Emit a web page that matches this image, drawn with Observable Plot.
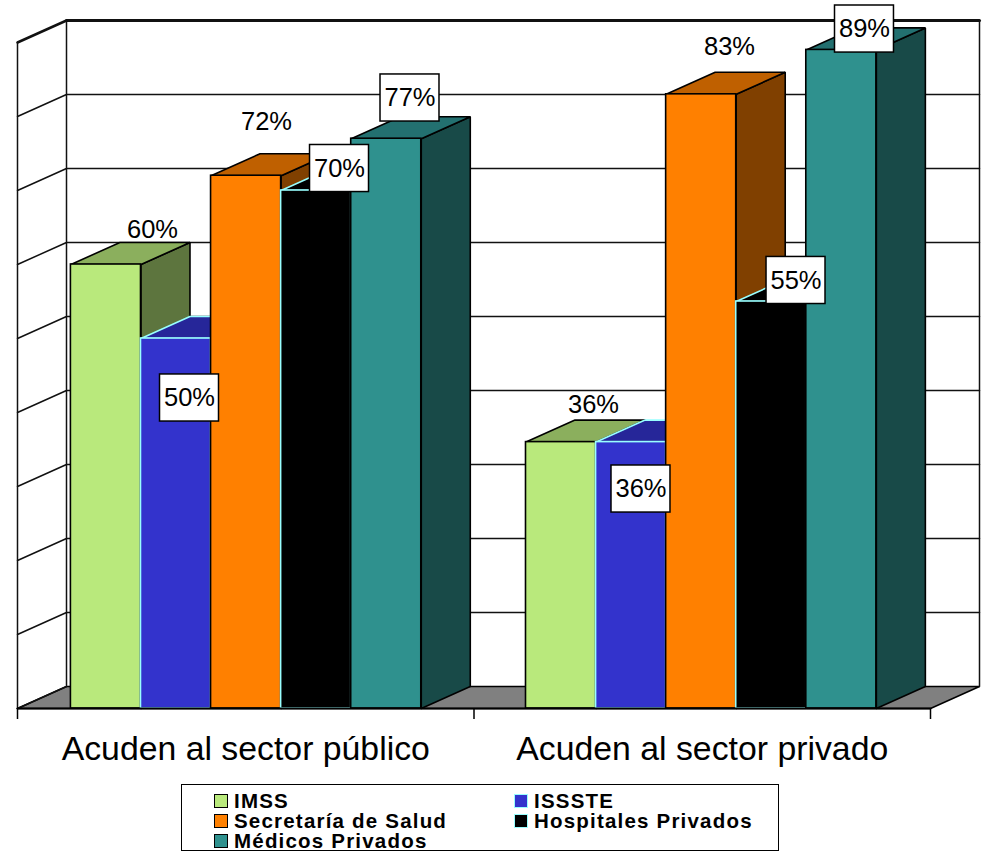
<!DOCTYPE html>
<html><head><meta charset="utf-8">
<script src="https://cdn.jsdelivr.net/npm/d3@7"></script>
<script src="https://cdn.jsdelivr.net/npm/@observablehq/plot@0.6"></script>
<style>
html,body{margin:0;padding:0;background:#fff;font-family:"Liberation Sans",Arial,sans-serif}
#chart{height:780px}
#legend{box-sizing:border-box;position:relative;margin:4px 0 0 181px;width:598px;height:67px;border:1.5px solid #000;overflow:visible;display:grid;grid-template-columns:300px 260px;grid-auto-rows:20px;padding:5.5px 0 0 32px;font-weight:bold;font-size:20.5px;line-height:20px;letter-spacing:1.2px;color:#000}
#legend div{display:flex;align-items:center;white-space:nowrap;height:20px}
#legend i{display:inline-block;box-sizing:border-box;width:14px;height:14px;border:1.5px solid #000;margin-right:6px;flex:none}
#legend span{display:inline-block;height:20px;line-height:20px}
</style></head><body>
<div id="chart"></div>
<div id="legend"></div>
<script>
const categories = ["Acuden al sector público", "Acuden al sector privado"];
const series = ["IMSS", "ISSSTE", "Secretaría de Salud", "Hospitales Privados", "Médicos Privados"];
const publico = [60, 50, 72, 70, 77];
const privado = [36, 36, 83, 55, 89];
const yTicks = [0, 10, 20, 30, 40, 50, 60, 70, 80, 90];

const frontColors = ["#B9E97C", "#3333CC", "#FF8000", "#000000", "#2F918E"];
const topColors   = ["#8BAF5D", "#262699", "#BF6000", "#000000", "#237070"];
const sideColors  = ["#5D753E", "#1A1A66", "#804000", "#000000", "#184A48"];
const edgeColors  = ["#000000", "#99FFFF", "#000000", "#99FFFF", "#000000"];

// layout, in the chart's own units (category units on x, percent on y)
const depthX = 0.10734, depthY = 2.973, barW = 0.1535;
const groupStart = [0.117, 1.1139];
const labelX = [[0.2957, 0.3768, 0.5455, 0.7054, 0.8598], [1.2618, 1.3658, 1.5597, 1.7054, 1.8554]];
const labelY = [[64.73, 41.96, 79.32, 72.97, 82.5], [41.08, 29.66, 89.46, 57.84, 91.82]];
const boxed = [false, true, false, true, true];
const boxHalfX = 0.0646, boxHalfY = 3.18;

const poly = (pts, o) => Plot.line([...pts, pts[0]], {x: d => d[0], y: d => d[1], strokeLinejoin: "miter", ...o});
const seg = (a, b, w = 1.5, c = "#111") => Plot.line([a, b], {x: d => d[0], y: d => d[1], stroke: c, strokeWidth: w});

const marks = [];
// floor
marks.push(poly([[0,0],[2,0],[2+depthX,depthY],[depthX,depthY]], {fill:"#808080", stroke:"#000", strokeWidth:1.5}));
// walls and gridlines
for (const t of yTicks) {
  const w = t === 90 ? 3 : 1.5;
  if (t > 0) marks.push(seg([depthX, t+depthY],[2+depthX, t+depthY], w));
  marks.push(seg([0,t],[depthX,t+depthY], t === 90 ? 2.5 : 1.5));
}
marks.push(seg([0,0],[0,90]));
marks.push(seg([depthX,depthY],[depthX,90+depthY]));
marks.push(seg([2+depthX,depthY],[2+depthX,90+depthY]));
// axis
marks.push(Plot.axisX({ticks:[0,1,2], tickSize:11, text:null, stroke:"#000", strokeWidth:1.5}));
marks.push(Plot.axisX({ticks:[0.5,1.5], tickSize:0, tickPadding:27, fontSize:33.8, tickFormat:d=>categories[d-0.5], fill:"#000", lineAnchor:"top"}));
// bars, painted left to right
[publico, privado].forEach((vals, g) => {
  vals.forEach((v, i) => {
    const x0 = groupStart[g] + i*barW, x1 = x0 + barW;
    const o = {stroke: edgeColors[i], strokeWidth: 1.6};
    marks.push(poly([[x1,0],[x1+depthX,depthY],[x1+depthX,v+depthY],[x1,v]], {fill: sideColors[i], ...o}));
    marks.push(poly([[x0,v],[x1,v],[x1+depthX,v+depthY],[x0+depthX,v+depthY]], {fill: topColors[i], ...o}));
    marks.push(Plot.rect([{x0,x1,v}], {x1:"x0", x2:"x1", y1:0, y2:"v", fill: frontColors[i], ...o}));
  });
});
marks.push(seg([0,0],[2,0],2,"#000"));
// labels on top
[publico, privado].forEach((vals, g) => {
  vals.forEach((v, i) => {
    const lx = labelX[g][i], ly = labelY[g][i];
    if (boxed[i]) marks.push(Plot.rect([{lx,ly}], {x1:d=>d.lx-boxHalfX, x2:d=>d.lx+boxHalfX, y1:d=>d.ly-boxHalfY, y2:d=>d.ly+boxHalfY, fill:"#fff", stroke:"#000", strokeWidth:1.5}));
    marks.push(Plot.text([{lx,ly,v}], {x:"lx", y:"ly", text:d=>d.v+"%", fontSize:25.5, fill:"#000", stroke:null}));
  });
});

const chart = Plot.plot({
  width: 984, height: 780,
  marginLeft: 17, marginRight: 54, marginTop: 42, marginBottom: 72,
  style: {fontFamily: '"Liberation Sans", Arial, sans-serif', background: "#fff", overflow: "visible"},
  x: {type:"linear", domain:[0,2], range:[17,930], axis:null},
  y: {type:"linear", domain:[0,90], range:[708,42], axis:null},
  marks
});
document.getElementById("chart").appendChild(chart);

const legend = document.getElementById("legend");
series.forEach((s,i) => {
  const d = document.createElement("div");
  const sw = document.createElement("i");
  sw.style.background = frontColors[i];
  sw.style.borderColor = edgeColors[i];
  const t = document.createElement("span");
  t.textContent = s;
  d.appendChild(sw);
  d.appendChild(t);
  legend.appendChild(d);
});
</script>
</body></html>
